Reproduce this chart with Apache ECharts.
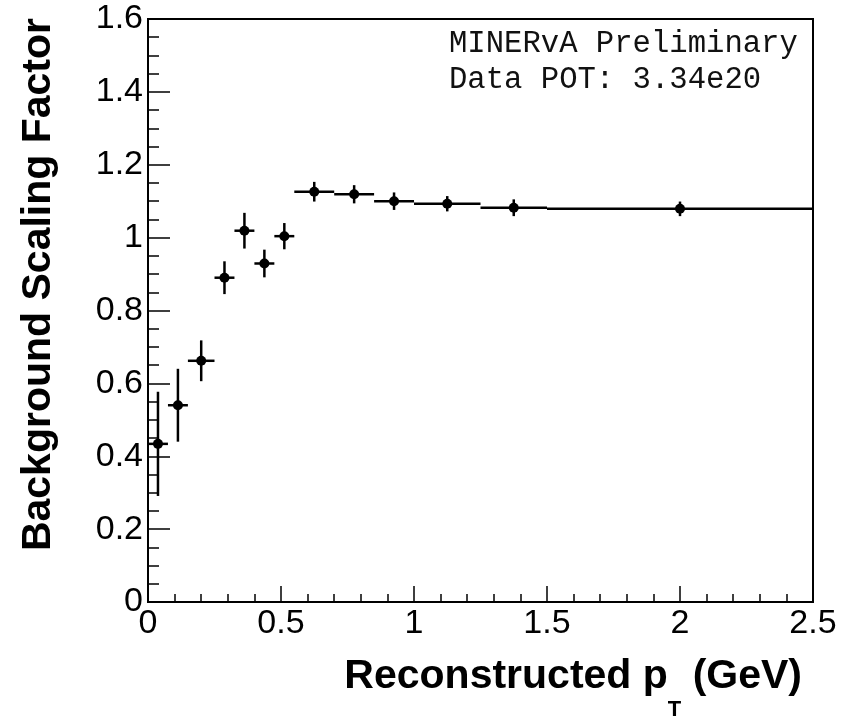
<!DOCTYPE html>
<html>
<head>
<meta charset="utf-8">
<script src="https://cdn.jsdelivr.net/npm/echarts@6/dist/echarts.min.js"></script>
<style>
  html, body { margin: 0; padding: 0; background: #fff; }
  #chart { width: 852px; height: 716px; }
</style>
</head>
<body>
<div id="chart"></div>
<script>
// pT bin edges (GeV) and the fitted background scale per bin
var binLow  = [0, 0.075, 0.15, 0.25, 0.325, 0.4, 0.475, 0.55, 0.7, 0.85, 1.0, 1.25, 1.5];
var binHigh = [0.075, 0.15, 0.25, 0.325, 0.4, 0.475, 0.55, 0.7, 0.85, 1.0, 1.25, 1.5, 2.5];
var scaleFactor = [0.434, 0.540, 0.662, 0.890, 1.019, 0.929, 1.004, 1.126, 1.119, 1.100, 1.093, 1.082, 1.079];
var scaleErr    = [0.143, 0.100, 0.056, 0.045, 0.049, 0.038, 0.036, 0.027, 0.025, 0.024, 0.021, 0.023, 0.020];

var xTicks = [0, 0.5, 1, 1.5, 2, 2.5];
var yTicks = [0, 0.2, 0.4, 0.6, 0.8, 1, 1.2, 1.4, 1.6];
var noteLines = ['MINERvA Preliminary', 'Data POT: 3.34e20'];

var rows = binLow.map(function (lo, i) {
  return [lo, binHigh[i], scaleFactor[i], scaleErr[i]];
});

function drawPoint(params, api) {
  var lo = api.value(0), hi = api.value(1), v = api.value(2), e = api.value(3);
  var mid = (lo + hi) / 2;
  var a = api.coord([lo, v]), b = api.coord([hi, v]);
  var c = api.coord([mid, v]);
  var t = api.coord([mid, v + e]), d = api.coord([mid, v - e]);
  var st = { stroke: '#000', lineWidth: 2.5 };
  return {
    type: 'group',
    children: [
      { type: 'line', shape: { x1: a[0], y1: a[1], x2: b[0], y2: b[1] }, style: st },
      { type: 'line', shape: { x1: t[0], y1: t[1], x2: d[0], y2: d[1] }, style: st },
      { type: 'circle', shape: { cx: c[0], cy: c[1], r: 5 }, style: { fill: '#000' } }
    ]
  };
}

var labelFont = { color: '#000', fontFamily: 'Liberation Sans', fontSize: 34 };

option = {
  animation: false,
  backgroundColor: '#fff',
  grid: {
    left: 148, right: 39, top: 19, bottom: 114,
    show: true, borderColor: '#000', borderWidth: 2
  },
  xAxis: {
    type: 'value',
    min: xTicks[0], max: xTicks[xTicks.length - 1], interval: xTicks[1] - xTicks[0],
    splitLine: { show: false },
    axisLine: { lineStyle: { color: '#000', width: 2 } },
    axisTick: { inside: true, length: 16, lineStyle: { color: '#000', width: 1.5 } },
    minorTick: { show: true, splitNumber: 5, length: 8, lineStyle: { color: '#000', width: 1.5 } },
    axisLabel: Object.assign({ margin: 5, showMinLabel: true, showMaxLabel: true }, labelFont)
  },
  yAxis: {
    type: 'value',
    min: yTicks[0], max: yTicks[yTicks.length - 1], interval: yTicks[1] - yTicks[0],
    splitLine: { show: false },
    axisLine: { show: true, lineStyle: { color: '#000', width: 2 } },
    axisTick: { show: true, inside: true, length: 22, lineStyle: { color: '#000', width: 1.5 } },
    minorTick: { show: true, splitNumber: 4, length: 11, lineStyle: { color: '#000', width: 1.5 } },
    axisLabel: Object.assign({ margin: 5, showMinLabel: true, showMaxLabel: true }, labelFont)
  },
  graphic: [
    {
      type: 'text', x: 59, y: 18, rotation: Math.PI / 2,
      style: {
        text: 'Background Scaling Factor', fill: '#000',
        font: 'bold 41px "Liberation Sans"',
        align: 'right', verticalAlign: 'bottom'
      }
    },
    {
      type: 'text', x: 802, y: 656,
      style: {
        text: '{m|Reconstructed p}{s|T}{m| (GeV)}',
        align: 'right', verticalAlign: 'top', fill: '#000',
        rich: {
          m: { fontFamily: 'Liberation Sans', fontWeight: 'bold', fontSize: 41, lineHeight: 41, verticalAlign: 'top' },
          s: { fontFamily: 'Liberation Sans', fontWeight: 'bold', fontSize: 22, lineHeight: 22, verticalAlign: 'top', padding: [43, 0, 0, 0] }
        }
      }
    },
    {
      type: 'text', x: 449, y: 26,
      style: {
        text: noteLines.join('\n'), fill: '#111',
        font: '30.6px "Liberation Mono"', lineHeight: 36,
        align: 'left', verticalAlign: 'top'
      }
    }
  ],
  series: [
    {
      type: 'custom',
      renderItem: drawPoint,
      encode: { x: [0, 1], y: 2 },
      data: rows,
      clip: true
    }
  ]
};

var chart = echarts.init(document.getElementById('chart'));
chart.setOption(option);
</script>
</body>
</html>
